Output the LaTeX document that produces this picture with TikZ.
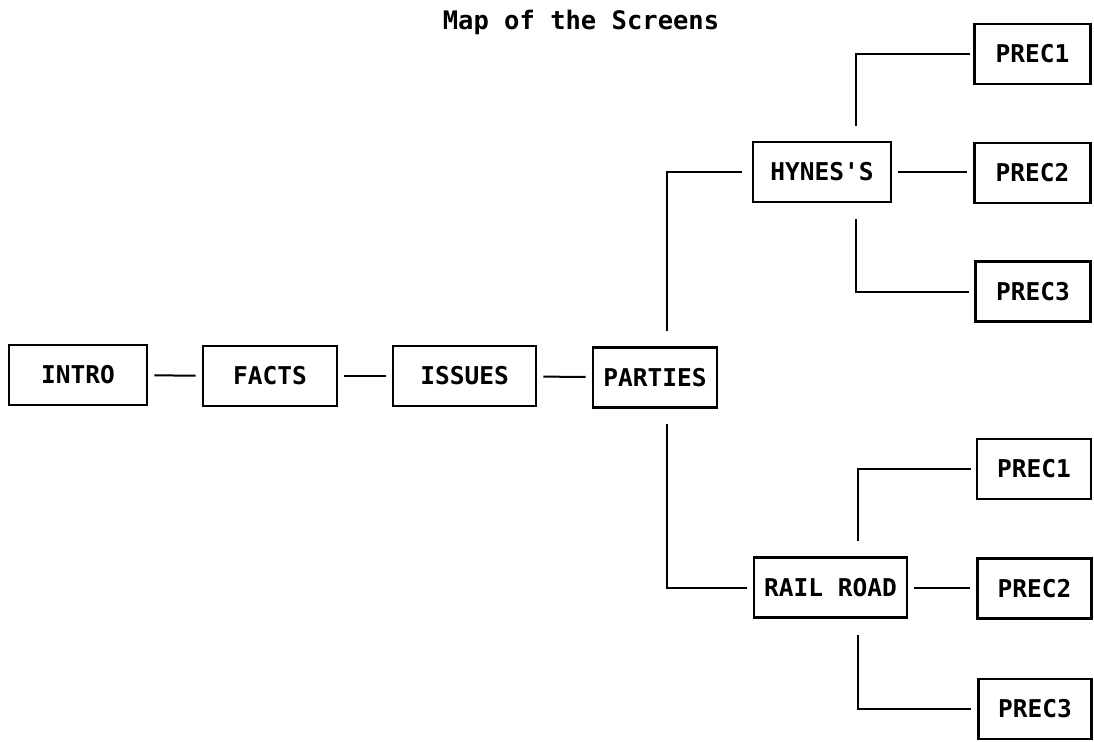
\documentclass[tikz,border=0pt]{standalone}
\usepackage{fontspec}
\setmonofont{DejaVu Sans Mono}
\begin{document}
\begin{tikzpicture}[x=1pt,y=-1pt,
  scr/.style={draw, line width=2.8pt, inner sep=0pt, minimum height=60pt,
    font=\ttfamily\bfseries\fontsize{24.5}{24.5}\selectfont},
  conn/.style={line width=2pt},
  gap/.style={shorten <=6pt, shorten >=6pt}]
\useasboundingbox (0,0) rectangle (1094,741);
\node[font=\ttfamily\bfseries\fontsize{25.5}{25.5}\selectfont] (title) at (581,22) {Map of the Screens};
\node[scr, minimum width=138pt] (intro) at (78,375) {INTRO};
\node[scr, minimum width=134pt] (facts) at (270,376) {FACTS};
\node[scr, minimum width=143pt] (issues) at (464.5,376) {ISSUES};
\node[scr, minimum width=124pt] (parties) at (655,377.5) {PARTIES};
\node[scr, minimum width=138pt] (hynes) at (822,172) {HYNES'S};
\node[scr, minimum width=153pt] (rail) at (830.5,587.5) {RAIL ROAD};
\node[scr, minimum width=116pt] (hp1) at (1032.5,54) {PREC1};
\node[scr, minimum width=116pt] (hp2) at (1032.5,173) {PREC2};
\node[scr, minimum width=115pt] (hp3) at (1033,291.5) {PREC3};
\node[scr, minimum width=114pt] (rp1) at (1034,469) {PREC1};
\node[scr, minimum width=114pt] (rp2) at (1034.5,588.5) {PREC2};
\node[scr, minimum width=113pt] (rp3) at (1035,709) {PREC3};
\draw[conn, gap] (intro) -- (facts);
\draw[conn, gap] (facts) -- (issues);
\draw[conn, gap] (issues) -- (parties);
\draw[conn] ([xshift=12pt,yshift=15pt]parties.north) |- ([xshift=-10pt]hynes.west);
\draw[conn] ([xshift=12pt,yshift=-15pt]parties.south) |- ([xshift=-6pt]rail.west);
\draw[conn] ([xshift=34pt,yshift=15pt]hynes.north) |- ([xshift=-3pt]hp1.west);
\draw[conn, gap] (hynes.east) -- (hynes.east -| hp2.west);
\draw[conn] ([xshift=34pt,yshift=-16pt]hynes.south) |- ([xshift=-5pt]hp3.west);
\draw[conn] ([xshift=27pt,yshift=15pt]rail.north) |- ([xshift=-5pt]rp1.west);
\draw[conn, gap] (rail.east) -- (rail.east -| rp2.west);
\draw[conn] ([xshift=27pt,yshift=-16pt]rail.south) |- ([xshift=-6pt]rp3.west);
\end{tikzpicture}
\end{document}
